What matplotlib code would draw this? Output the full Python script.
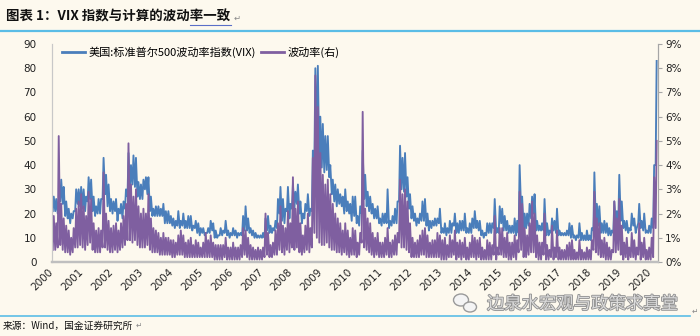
import numpy as np
import matplotlib.pyplot as plt
from matplotlib.lines import Line2D
from matplotlib.patches import Ellipse
from matplotlib.ticker import PercentFormatter
from matplotlib import patheffects

plt.rcParams['font.family'] = ['Noto Sans CJK SC', 'DejaVu Sans']

BG = '#FDF9EE'
BLUE = '#4A7EBB'
PURPLE = '#7F5FA0'

years = list(range(2000, 2021))
year_labels = [str(y) for y in years]
vix_name = '美国:标准普尔500波动率指数(VIX)'
vol_name = '波动率(右)'

# monthly low / high of the VIX close, Jan 2000 - Mar 2020
vix_low = [
    21, 21, 20, 25, 24, 19, 18, 16, 18, 21, 24, 23,  # 2000
    22, 21, 25, 26, 21, 19, 20, 20, 26, 28, 23, 21,  # 2001
    20, 21, 17, 20, 18, 22, 27, 30, 32, 31, 27, 26,  # 2002
    26, 30, 28, 21, 19, 19, 19, 19, 19, 16, 16, 16,  # 2003
    15, 14, 15, 14, 15, 14, 14, 14, 13, 14, 12, 11,  # 2004
    12, 11, 12, 12, 13, 10, 10, 11, 11, 12, 11, 10,  # 2005
    11, 11, 10, 11, 11, 13, 13, 12, 11, 10, 10, 10,  # 2006
    10, 10, 13, 12, 12, 13, 14, 20, 17, 16, 21, 18,  # 2007
    22, 22, 24, 20, 16, 18, 21, 19, 21, 39, 47, 41,  # 2008
    39, 37, 38, 35, 28, 25, 23, 24, 23, 20, 21, 20,  # 2009
    17, 19, 16, 15, 20, 26, 23, 21, 20, 18, 18, 16,  # 2010
    15, 16, 16, 14, 15, 16, 16, 25, 30, 29, 27, 22,  # 2011
    18, 17, 15, 16, 17, 17, 15, 13, 14, 15, 15, 16,  # 2012
    12, 12, 11, 12, 12, 15, 12, 12, 13, 13, 12, 12,  # 2013
    12, 14, 14, 13, 11, 10, 11, 12, 12, 14, 12, 12,  # 2014
    16, 13, 13, 12, 12, 12, 11, 12, 21, 14, 14, 15,  # 2015
    18, 20, 13, 13, 13, 13, 11, 11, 12, 13, 12, 11,  # 2016
    11, 11, 11, 11, 10, 10, 9, 10, 9, 9, 9, 9,       # 2017
    9, 13, 15, 15, 12, 12, 12, 11, 11, 12, 16, 16,   # 2018
    17, 14, 13, 12, 13, 15, 12, 16, 14, 13, 12, 12,  # 2019
    12, 14, 40,                                      # 2020
]
vix_high = [
    27, 26, 26, 34, 31, 25, 22, 20, 21, 30, 30, 31,  # 2000
    30, 27, 35, 34, 27, 23, 26, 26, 43, 36, 32, 26,  # 2001
    25, 26, 22, 24, 25, 30, 45, 40, 44, 43, 33, 32,  # 2002
    34, 35, 35, 27, 22, 23, 23, 22, 24, 21, 21, 19,  # 2003
    18, 17, 21, 17, 20, 17, 19, 19, 15, 17, 16, 14,  # 2004
    14, 12, 14, 17, 16, 13, 11, 14, 13, 17, 13, 12,  # 2005
    14, 13, 12, 12, 19, 23, 18, 14, 13, 12, 11, 11,  # 2006
    12, 18, 19, 15, 14, 17, 26, 31, 26, 22, 31, 24,  # 2007
    32, 29, 32, 25, 20, 24, 28, 22, 46, 80, 81, 60,  # 2008
    57, 52, 52, 40, 34, 32, 30, 28, 27, 30, 25, 24,  # 2009
    27, 27, 19, 23, 46, 36, 29, 27, 24, 22, 23, 18,  # 2010
    20, 20, 30, 17, 19, 22, 25, 48, 43, 45, 35, 28,  # 2011
    23, 20, 18, 20, 25, 26, 20, 17, 17, 18, 18, 22,  # 2012
    14, 16, 14, 17, 16, 20, 16, 17, 17, 20, 14, 16,  # 2013
    18, 21, 17, 17, 13, 12, 16, 16, 16, 26, 14, 23,  # 2014
    22, 19, 17, 15, 15, 18, 17, 40, 27, 20, 20, 24,  # 2015
    27, 28, 17, 15, 16, 26, 16, 13, 18, 17, 22, 13,  # 2016
    12, 12, 13, 16, 15, 11, 11, 16, 12, 11, 13, 11,  # 2017
    14, 37, 24, 23, 16, 17, 16, 14, 13, 25, 21, 36,  # 2018
    25, 17, 17, 14, 20, 18, 14, 24, 17, 20, 13, 15,  # 2019
    18, 40, 83,                                      # 2020
]

# monthly low / high of the computed volatility, in %
vol_low = [
    0.5, 0.5, 0.6, 0.7, 0.5, 0.4, 0.4, 0.3, 0.4, 0.6, 0.6, 0.7,  # 2000
    0.6, 0.5, 0.7, 0.8, 0.5, 0.4, 0.4, 0.4, 0.6, 0.6, 0.5, 0.4,  # 2001
    0.4, 0.5, 0.4, 0.5, 0.6, 0.7, 0.9, 0.9, 0.8, 0.9, 0.7, 0.6,  # 2002
    0.6, 0.6, 0.7, 0.5, 0.4, 0.4, 0.4, 0.3, 0.3, 0.3, 0.3, 0.3,  # 2003
    0.2, 0.2, 0.3, 0.3, 0.3, 0.2, 0.2, 0.2, 0.2, 0.2, 0.2, 0.2,  # 2004
    0.2, 0.2, 0.2, 0.2, 0.2, 0.1, 0.1, 0.1, 0.1, 0.2, 0.1, 0.1,  # 2005
    0.1, 0.1, 0.1, 0.1, 0.2, 0.3, 0.2, 0.1, 0.1, 0.1, 0.1, 0.1,  # 2006
    0.1, 0.2, 0.3, 0.2, 0.2, 0.3, 0.3, 0.5, 0.4, 0.3, 0.5, 0.4,  # 2007
    0.6, 0.5, 0.6, 0.4, 0.3, 0.4, 0.5, 0.4, 0.6, 1.2, 1.0, 0.8,  # 2008
    0.7, 0.7, 0.8, 0.6, 0.5, 0.5, 0.4, 0.4, 0.3, 0.4, 0.3, 0.2,  # 2009
    0.3, 0.3, 0.2, 0.3, 0.8, 0.6, 0.5, 0.4, 0.3, 0.2, 0.3, 0.2,  # 2010
    0.2, 0.2, 0.3, 0.2, 0.2, 0.3, 0.3, 0.8, 0.6, 0.6, 0.5, 0.4,  # 2011
    0.2, 0.2, 0.2, 0.2, 0.3, 0.3, 0.2, 0.2, 0.2, 0.2, 0.2, 0.2,  # 2012
    0.1, 0.1, 0.1, 0.2, 0.2, 0.3, 0.1, 0.2, 0.1, 0.2, 0.1, 0.1,  # 2013
    0.2, 0.2, 0.1, 0.2, 0.1, 0.1, 0.1, 0.1, 0.1, 0.3, 0.1, 0.3,  # 2014
    0.3, 0.2, 0.2, 0.1, 0.1, 0.2, 0.1, 0.4, 0.5, 0.2, 0.2, 0.3,  # 2015
    0.4, 0.4, 0.2, 0.1, 0.1, 0.3, 0.1, 0.1, 0.2, 0.1, 0.2, 0.1,  # 2016
    0.1, 0.1, 0.1, 0.1, 0.1, 0.1, 0.1, 0.1, 0.1, 0.1, 0.1, 0.1,  # 2017
    0.1, 0.5, 0.4, 0.3, 0.2, 0.2, 0.1, 0.1, 0.1, 0.4, 0.4, 0.5,  # 2018
    0.3, 0.1, 0.2, 0.1, 0.2, 0.2, 0.1, 0.3, 0.1, 0.2, 0.1, 0.1,  # 2019
    0.1, 0.2, 1.4,                                               # 2020
]
vol_high = [
    1.9, 1.6, 5.2, 2.4, 1.8, 1.5, 1.3, 1.0, 1.4, 2.2, 2.5, 2.8,  # 2000
    2.3, 1.9, 2.9, 2.6, 1.6, 1.3, 1.4, 1.3, 3.7, 2.0, 1.7, 1.4,  # 2001
    1.5, 1.6, 1.3, 1.6, 1.9, 2.4, 4.9, 3.2, 2.7, 3.0, 2.3, 2.0,  # 2002
    2.2, 2.0, 2.8, 1.8, 1.4, 1.3, 1.2, 1.0, 1.2, 1.0, 1.0, 0.9,  # 2003
    0.9, 0.8, 1.1, 1.3, 1.1, 0.8, 0.9, 1.0, 0.7, 0.9, 0.8, 0.6,  # 2004
    0.8, 1.2, 0.9, 1.1, 0.8, 0.7, 0.7, 0.7, 0.7, 1.0, 0.6, 0.6,  # 2005
    0.8, 0.6, 0.6, 0.7, 1.4, 1.3, 1.0, 0.7, 0.6, 0.5, 0.6, 0.5,  # 2006
    0.6, 2.0, 1.2, 0.7, 0.8, 1.3, 1.6, 2.3, 1.5, 1.4, 2.1, 1.6,  # 2007
    3.5, 2.2, 2.5, 1.6, 1.1, 1.5, 2.0, 1.4, 4.3, 7.7, 6.4, 4.5,  # 2008
    3.6, 3.2, 3.4, 2.8, 2.4, 2.0, 1.8, 1.6, 1.3, 1.6, 1.3, 1.0,  # 2009
    1.4, 1.3, 0.8, 1.2, 6.2, 2.2, 1.8, 1.6, 1.2, 1.0, 1.2, 0.8,  # 2010
    0.8, 1.0, 1.4, 0.8, 0.9, 1.1, 1.2, 3.4, 2.8, 3.0, 2.5, 1.6,  # 2011
    1.0, 0.8, 0.9, 1.1, 1.3, 1.4, 1.1, 0.8, 0.9, 0.9, 1.2, 1.1,  # 2012
    0.9, 1.0, 0.7, 1.1, 0.9, 1.3, 0.8, 0.9, 0.8, 1.0, 0.6, 0.8,  # 2013
    1.1, 1.0, 0.9, 1.0, 0.6, 0.5, 0.9, 0.8, 0.7, 1.9, 0.6, 1.4,  # 2014
    1.4, 1.0, 1.2, 0.8, 0.8, 1.1, 0.9, 2.9, 2.4, 1.4, 1.1, 1.6,  # 2015
    2.5, 2.0, 1.1, 0.8, 0.8, 2.0, 0.7, 0.5, 1.5, 0.6, 1.3, 0.6,  # 2016
    0.5, 0.5, 0.7, 0.8, 0.9, 0.5, 0.4, 0.9, 0.5, 0.4, 0.6, 0.5,  # 2017
    0.9, 2.9, 1.8, 1.6, 0.9, 1.0, 0.8, 0.6, 0.5, 2.5, 1.8, 2.6,  # 2018
    1.5, 0.8, 1.0, 0.6, 1.2, 0.9, 0.6, 1.6, 0.8, 1.0, 0.5, 0.6,  # 2019
    1.0, 3.5, 5.0,                                               # 2020
]


def zigzag(low, high):
    # two points per month: the month's low, then its high
    n = len(low)
    t = 2000 + np.arange(n) / 12.0
    x = np.empty(2 * n)
    y = np.empty(2 * n)
    x[0::2] = t + 0.3 / 12
    x[1::2] = t + 0.7 / 12
    y[0::2] = low
    y[1::2] = high
    return x, y


fig = plt.figure(figsize=(7, 3.36), dpi=100, facecolor=BG)
ax = fig.add_axes([52 / 700, 74 / 336, 606 / 700, 218 / 336])
ax.set_facecolor(BG)
ax2 = ax.twinx()

x, y = zigzag(vix_low, vix_high)
ax.plot(x, y, color=BLUE, lw=1.35)
x, y = zigzag(vol_low, vol_high)
ax2.plot(x, np.array(y) / 100.0, color=PURPLE, lw=1.35)

ax.set_xlim(2000, 2020.27)
ax.set_ylim(0, 90)
ax.set_yticks(range(0, 91, 10))
ax2.set_ylim(0, 0.09)
ax2.set_yticks(np.arange(0, 0.091, 0.01))
ax2.yaxis.set_major_formatter(PercentFormatter(1.0, decimals=0))

ax.set_xticks(years)
ax.set_xticklabels(year_labels, rotation=45, ha='right', va='center',
                   rotation_mode='anchor')
ax.tick_params(axis='x', length=0, pad=6)
ax.tick_params(axis='y', length=0, pad=11)
ax2.tick_params(axis='y', length=3, width=0.8, color='#A6A6A6', pad=2)
for lab in ax.get_xticklabels() + ax.get_yticklabels() + ax2.get_yticklabels():
    lab.set_fontfamily('DejaVu Sans')
    lab.set_fontsize(7.5)
    lab.set_color('#222222')

for a in (ax, ax2):
    a.spines['top'].set_visible(False)
    a.spines['left'].set_color('#C8C8C8')
    a.spines['right'].set_color('#A6A6A6')
    a.spines['bottom'].set_color('#BFBFBF')
    a.spines['bottom'].set_linewidth(1.6)

handles = [Line2D([], [], color=BLUE, lw=2), Line2D([], [], color=PURPLE, lw=2)]
ax2.legend(handles, [vix_name, vol_name], loc='center left',
           bbox_to_anchor=(62 / 700, 1 - 52 / 336), bbox_transform=fig.transFigure,
           ncol=2, frameon=False, fontsize=8, handlelength=2.1,
           handletextpad=0.25, columnspacing=0.5, borderpad=0, borderaxespad=0)

# page furniture in pixel coordinates
top = fig.add_axes([0, 0, 1, 1], facecolor='none')
top.set_xlim(0, 700)
top.set_ylim(336, 0)
top.axis('off')

top.plot([0, 700], [31, 31], color='#5BBDE6', lw=1.6)
top.plot([0, 690], [316, 316], color='#5BBDE6', lw=1.2)
top.text(6, 17, '图表 1：VIX 指数与计算的波动率一致', fontsize=9.7, fontweight='bold',
         ha='left', va='center', color='#111111')
top.plot([190, 231], [24.5, 24.5], color='#5A6FC8', lw=0.8)
top.text(234, 18, '↵', fontsize=6, color='#888888', ha='left', va='center')
top.text(3, 326, '来源：Wind，国金证券研究所', fontsize=7, ha='left', va='center',
         color='#111111')
top.text(136, 326, '↵', fontsize=5.5, color='#888888', ha='left', va='center')
top.text(692, 312, '↵', fontsize=5.5, color='#888888', ha='left', va='center')

# watermark
for cx, cy, w, h in [(461, 300, 15, 12), (470, 307, 13, 10)]:
    top.add_patch(Ellipse((cx, cy), w, h, facecolor='#F4F4F4',
                          edgecolor='#9A9A9A', lw=1.0))
wm = top.text(487, 304, '边泉水宏观与政策求真堂', fontsize=12.5, ha='left',
              va='center', color='#DADADA')
wm.set_path_effects([patheffects.Stroke(linewidth=1.2, foreground='#8F8F8F'),
                     patheffects.Normal()])

fig.savefig('out.png', dpi=100, facecolor=BG)
